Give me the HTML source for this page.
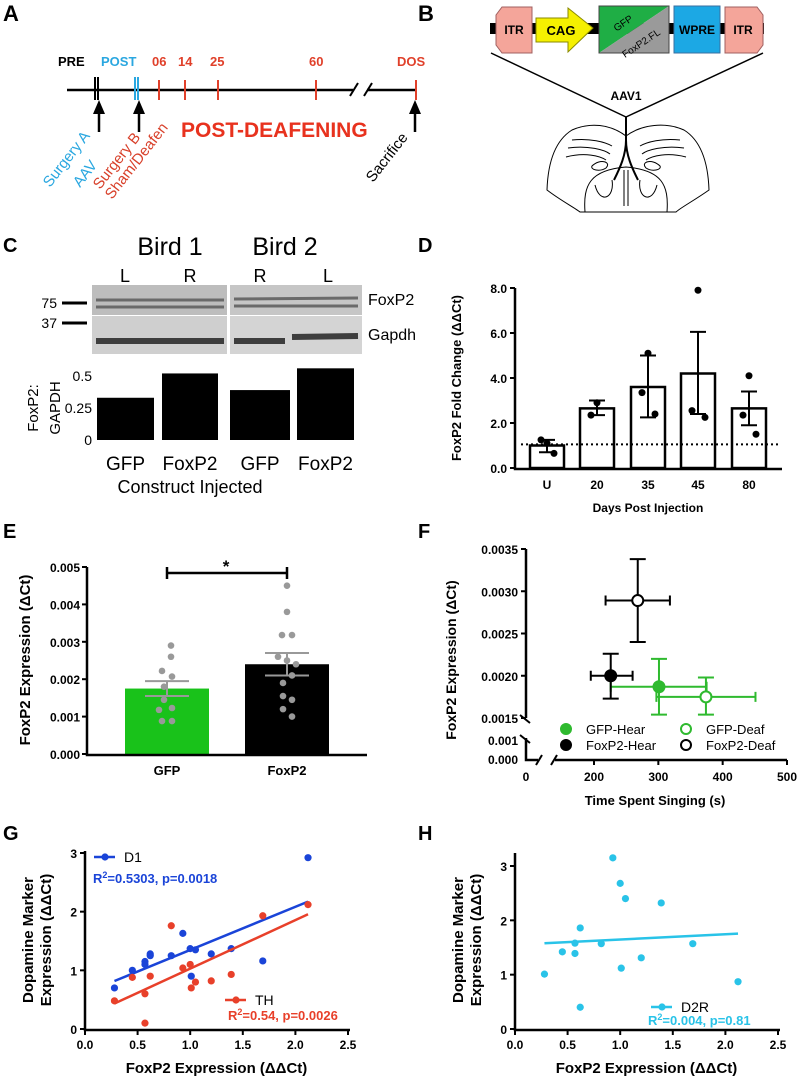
<!DOCTYPE html>
<html><head><meta charset="utf-8"><style>
html,body{margin:0;padding:0;background:#fff}
svg{display:block;font-family:"Liberation Sans",Arial,sans-serif}
.b{font-weight:bold}
</style></head><body>
<svg id="fig" width="800" height="1080" viewBox="0 0 800 1080" xmlns="http://www.w3.org/2000/svg">
<!-- Panel A -->
<g>
<text x="3" y="21" font-size="22" class="b">A</text>
<line x1="67" y1="90" x2="353" y2="90" stroke="#000" stroke-width="2.5"/>
<line x1="367" y1="90" x2="416" y2="90" stroke="#000" stroke-width="2.5"/>
<line x1="350" y1="96" x2="358" y2="83" stroke="#000" stroke-width="2"/>
<line x1="364" y1="96" x2="372" y2="83" stroke="#000" stroke-width="2"/>
<line x1="95" y1="77" x2="95" y2="100" stroke="#000" stroke-width="2"/>
<line x1="98" y1="77" x2="98" y2="100" stroke="#000" stroke-width="2"/>
<line x1="135" y1="77" x2="135" y2="100" stroke="#2aa7e0" stroke-width="2"/>
<line x1="138" y1="77" x2="138" y2="100" stroke="#2aa7e0" stroke-width="2"/>
<g stroke="#e0402a" stroke-width="2">
<line x1="159" y1="80" x2="159" y2="100"/>
<line x1="185" y1="80" x2="185" y2="100"/>
<line x1="218" y1="80" x2="218" y2="100"/>
<line x1="316" y1="80" x2="316" y2="100"/>
<line x1="416" y1="80" x2="416" y2="100"/>
</g>
<g font-size="13" class="b">
<text x="58" y="66" fill="#000">PRE</text>
<text x="101" y="66" fill="#2aa7e0">POST</text>
<text x="152" y="66" fill="#e0402a">06</text>
<text x="178" y="66" fill="#e0402a">14</text>
<text x="210" y="66" fill="#e0402a">25</text>
<text x="309" y="66" fill="#e0402a">60</text>
<text x="397" y="66" fill="#e0402a">DOS</text>
</g>
<g stroke="#000" stroke-width="2.5">
<line x1="99" y1="132" x2="99" y2="112"/>
<line x1="139" y1="132" x2="139" y2="112"/>
<line x1="415" y1="132" x2="415" y2="112"/>
</g>
<polygon points="93,114 105,114 99,100" fill="#000"/>
<polygon points="133,114 145,114 139,100" fill="#000"/>
<polygon points="409,114 421,114 415,100" fill="#000"/>
<text x="181" y="137" font-size="21" class="b" fill="#e8321e">POST-DEAFENING</text>
<g font-size="15">
<text transform="translate(50,188) rotate(-52)" fill="#2aa7e0">Surgery A</text>
<text transform="translate(80,188) rotate(-52)" fill="#2aa7e0">AAV</text>
<text transform="translate(100,190) rotate(-52)" fill="#d8402a">Surgery B</text>
<text transform="translate(112,200) rotate(-52)" fill="#d8402a">Sham/Deafen</text>
<text transform="translate(373,183) rotate(-52)" fill="#000">Sacrifice</text>
</g>
</g>
<!-- Panel B -->
<g>
<text x="418" y="21" font-size="22" class="b">B</text>
<rect x="490" y="23" width="274" height="11" fill="#000"/>
<polygon points="502,7 532,7 532,53 502,53 496,45 496,15" fill="#f4a59a" stroke="#a06060"/>
<text x="514" y="34" font-size="12" class="b" text-anchor="middle">ITR</text>
<polygon points="536,18 568,18 568,8 593,28 568,52 568,42 536,42" fill="#f5f000" stroke="#8a8a00"/>
<text x="561" y="35" font-size="13" class="b" text-anchor="middle">CAG</text>
<polygon points="599,6 669,6 599,53" fill="#1fae45"/>
<polygon points="669,6 669,53 599,53" fill="#9a9a9a"/>
<rect x="599" y="6" width="70" height="47" fill="none" stroke="#444"/>
<text transform="translate(625,26) rotate(-34)" font-size="10" text-anchor="middle">GFP</text>
<text transform="translate(643,46) rotate(-34)" font-size="10" text-anchor="middle">FoxP2.FL</text>
<rect x="674" y="6" width="46" height="47" fill="#1ca8e4" stroke="#3a6fa0"/>
<text x="697" y="34" font-size="12" class="b" text-anchor="middle">WPRE</text>
<polygon points="725,7 757,7 763,15 763,45 757,53 725,53" fill="#f4a59a" stroke="#a06060"/>
<text x="743" y="34" font-size="12" class="b" text-anchor="middle">ITR</text>
<line x1="491" y1="53" x2="626" y2="117" stroke="#000" stroke-width="1.5"/>
<line x1="763" y1="53" x2="626" y2="117" stroke="#000" stroke-width="1.5"/>
<text x="626" y="100" font-size="12" class="b" text-anchor="middle">AAV1</text>
<g fill="none" stroke="#000" stroke-width="1">
<path d="M626,136 C610,124 590,122 572,130 C556,140 548,160 547,190 C560,200 575,208 580,212 L676,212 C680,208 695,200 709,190 C708,160 700,140 684,130 C666,122 642,124 626,136 Z"/>
<path d="M572,140 C590,138 605,142 612,146 M568,148 C588,145 605,150 610,154 M566,157 C585,152 600,156 606,160"/>
<path d="M680,140 C662,138 647,142 640,146 M684,148 C664,145 647,150 642,154 M686,157 C667,152 652,156 646,160"/>
<path d="M592,166 C600,158 612,162 606,168 C600,172 590,170 592,166 Z M660,166 C652,158 640,162 646,168 C652,172 662,170 660,166 Z"/>
<path d="M585,212 C583,185 590,170 626,167 C662,170 669,185 667,212"/>
<path d="M595,185 C600,205 615,198 612,180 M657,185 C652,205 637,198 640,180"/>
<path d="M624,170 L624,206 M628,170 L628,206"/>
</g>
<path d="M626,117 L626,140 C626,155 620,168 614,180 M626,140 C626,155 632,168 638,180" fill="none" stroke="#000" stroke-width="2"/>
</g>
<!-- Panel C -->
<g>
<text x="3" y="252" font-size="20" class="b">C</text>
<text x="170" y="255" font-size="25" text-anchor="middle">Bird 1</text>
<text x="285" y="255" font-size="25" text-anchor="middle">Bird 2</text>
<g font-size="18" text-anchor="middle">
<text x="125" y="282">L</text>
<text x="190" y="282">R</text>
<text x="260" y="282">R</text>
<text x="328" y="282">L</text>
</g>
<rect x="92" y="285" width="135" height="30" fill="#bdbdbd"/>
<rect x="230" y="285" width="132" height="30" fill="#c6c6c6"/>
<rect x="92" y="316" width="135" height="38" fill="#cfcfcf"/>
<rect x="230" y="316" width="132" height="38" fill="#d4d4d4"/>
<g stroke="#6a6a6a" stroke-width="3">
<line x1="96" y1="300" x2="224" y2="300"/><line x1="96" y1="307" x2="224" y2="307"/>
<line x1="234" y1="299" x2="358" y2="298"/><line x1="234" y1="306" x2="358" y2="306"/>
</g>
<g stroke="#3e3e3e" stroke-width="6">
<line x1="96" y1="341" x2="224" y2="341"/><line x1="234" y1="341" x2="285" y2="341"/><line x1="292" y1="337" x2="358" y2="336"/>
</g>
<line x1="62" y1="303" x2="87" y2="303" stroke="#000" stroke-width="3"/>
<line x1="62" y1="323" x2="87" y2="323" stroke="#000" stroke-width="3"/>
<text x="57" y="308" font-size="14" text-anchor="end">75</text>
<text x="57" y="328" font-size="14" text-anchor="end">37</text>
<text x="368" y="305" font-size="16">FoxP2</text>
<text x="368" y="340" font-size="16">Gapdh</text>
<g id="cbars"></g>
<text x="190" y="493" font-size="18" text-anchor="middle">Construct Injected</text>
</g>
<g id="panelD"></g>
<g id="panelE"></g>
<g id="panelF"></g>
<g id="panelG"></g>
<g id="panelH"></g>
</svg>
<script>
// ---------- data ----------
const cCats=["GFP","FoxP2","GFP","FoxP2"];
const cVals=[0.33,0.52,0.39,0.56];
const cTicks=[0,0.25,0.5];

const dCats=["U","20","35","45","80"];
const dMeans=[1.0,2.65,3.6,4.2,2.65];
const dErrLo=[0.7,2.35,2.25,2.4,1.9];
const dErrHi=[1.25,3.0,5.0,6.05,3.4];
const dPoints=[[1.1,1.25,0.65],[2.9,2.35],[5.1,3.35,2.4],[7.9,2.55,2.25],[4.1,2.35,1.5]];
const dTicks=[0,2,4,6,8];
const dBaseline=1.05;

const eCats=["GFP","FoxP2"];
const eMeans=[0.00175,0.0024];
const eSemLo=[0.00155,0.0021];
const eSemHi=[0.00195,0.0027];
const eGfpPts=[0.0029,0.0026,0.00222,0.00207,0.0018,0.00145,0.00118,0.00123,0.00088,0.00088];
const eFoxPts=[0.0045,0.0038,0.00318,0.00318,0.0026,0.0025,0.0024,0.0021,0.0019,0.00155,0.00145,0.0012,0.001];
const eTicks=[0,0.001,0.002,0.003,0.004,0.005];

const fNames=["GFP-Hear","GFP-Deaf","FoxP2-Hear","FoxP2-Deaf"];
const fX=[301,374,226,268];
const fY=[0.00187,0.00175,0.002,0.00289];
const fXlo=[226,297,195,218];
const fXhi=[375,451,260,318];
const fYlo=[0.00154,0.00154,0.00173,0.0024];
const fYhi=[0.0022,0.00198,0.00226,0.00338];
const fYTicks=[0.0015,0.002,0.0025,0.003,0.0035];
const fXTicks=[200,300,400,500];

const gX=[0.28,0.45,0.57,0.57,0.62,0.62,0.82,0.93,1.0,1.01,1.05,1.2,1.39,1.69,2.12];
const gD1=[0.7,1.0,1.1,1.15,1.25,1.28,1.25,1.63,1.37,0.9,1.35,1.28,1.37,1.16,2.92];
const gTHx=[0.28,0.45,0.57,0.57,0.62,0.82,0.93,1.0,1.01,1.05,1.2,1.39,1.69,2.12];
const gTH=[0.48,0.88,0.6,0.1,0.9,1.76,1.04,1.1,0.7,0.8,0.82,0.93,1.93,2.12];
const hX=[0.28,0.45,0.57,0.57,0.62,0.62,0.82,0.93,1.0,1.01,1.05,1.2,1.39,1.69,2.12];
const hD2R=[1.01,1.42,1.58,1.39,1.86,0.4,1.57,3.15,2.68,1.12,2.4,1.31,2.32,1.57,0.87];
const ghXTicks=[0,0.5,1.0,1.5,2.0,2.5];

// ---------- helpers ----------
const NS="http://www.w3.org/2000/svg";
function mk(parent,tag,attrs,text){const e=document.createElementNS(NS,tag);for(const k in attrs)e.setAttribute(k,attrs[k]);if(text!==undefined)e.textContent=text;parent.appendChild(e);return e;}
function lin(d0,d1,r0,r1){return v=>r0+(v-d0)*(r1-r0)/(d1-d0);}
function fit(xs,ys){const n=xs.length;let mx=0,my=0;for(let i=0;i<n;i++){mx+=xs[i];my+=ys[i];}mx/=n;my/=n;let sxy=0,sxx=0;for(let i=0;i<n;i++){sxy+=(xs[i]-mx)*(ys[i]-my);sxx+=(xs[i]-mx)**2;}const b=sxy/sxx;return [my-b*mx,b];}
const F="Liberation Sans, Arial, sans-serif";
let el;

// ---------- Panel C bars ----------
(function(){
const g=document.getElementById('cbars');
const y=lin(0,0.5,440,376);
const xs=[97,162,230,297], ws=[57,56,60,57];
for(let i=0;i<cVals.length;i++){
 el=mk(g,'rect',{x:xs[i],y:y(cVals[i]),width:ws[i],height:y(0)-y(cVals[i]),fill:'#000'});
 
 
 el=mk(g,'text',{x:xs[i]+ws[i]/2,y:470,'font-size':19,'text-anchor':'middle'},cCats[i]);
 
 
}
for(const t of cTicks){
 el=mk(g,'text',{x:92,y:y(t)+5,'font-size':14,'text-anchor':'end'},t===0?'0':String(t));
 
 
}
el=mk(g,'text',{transform:'translate(38,408) rotate(-90)','font-size':15,'text-anchor':'middle'},'FoxP2:');


el=mk(g,'text',{transform:'translate(60,408) rotate(-90)','font-size':15,'text-anchor':'middle'},'GAPDH');


})();

// ---------- Panel D ----------
(function(){
const g=document.getElementById('panelD');
const y=lin(0,8,468,288);
const cx=[547,597,648,698,749];
el=mk(g,'text',{x:418,y:252,'font-size':20,'font-weight':'bold'},'D');


for(let i=0;i<dCats.length;i++){
 el=mk(g,'rect',{x:cx[i]-17,y:y(dMeans[i]),width:34,height:y(0)-y(dMeans[i]),fill:'#fff',stroke:'#000','stroke-width':2.5});
 
 
 el=mk(g,'path',{d:`M${cx[i]},${y(dErrLo[i])}V${y(dErrHi[i])}M${cx[i]-8},${y(dErrHi[i])}H${cx[i]+8}M${cx[i]-8},${y(dErrLo[i])}H${cx[i]+8}`,stroke:'#000','stroke-width':2,fill:'none'});
 
 
 const offs=[-7,6,0];
 dPoints[i].forEach((v,j)=>{
  el=mk(g,'circle',{cx:cx[i]+[0,-6,7][j],cy:y(v),r:3.5,fill:'#000'});
  
  
 });
 el=mk(g,'text',{x:cx[i],y:489,'font-size':12,'font-weight':'bold','text-anchor':'middle'},dCats[i]);
 
 
}
el=mk(g,'line',{x1:521,x2:780,y1:y(dBaseline),y2:y(dBaseline),stroke:'#000','stroke-width':2,'stroke-dasharray':'2,3'});


el=mk(g,'path',{d:`M515,${y(8)}V469H782`,stroke:'#000','stroke-width':2.5,fill:'none'});


for(const t of dTicks){
 el=mk(g,'line',{x1:510,x2:515,y1:y(t),y2:y(t),stroke:'#000','stroke-width':2});
 
 
 el=mk(g,'text',{x:507,y:y(t)+5,'font-size':12,'font-weight':'bold','text-anchor':'end'},t.toFixed(1));
 
 
}
el=mk(g,'text',{x:648,y:512,'font-size':12,'font-weight':'bold','text-anchor':'middle'},'Days Post Injection');


el=mk(g,'text',{transform:'translate(461,378) rotate(-90)','font-size':13,'font-weight':'bold','text-anchor':'middle'},'FoxP2 Fold Change (ΔΔCt)');


})();

// ---------- Panel E ----------
(function(){
const g=document.getElementById('panelE');
const y=lin(0,0.005,754,567);
const cx=[167,287];
el=mk(g,'text',{x:3,y:538,'font-size':20,'font-weight':'bold'},'E');


const fills=['#19c21a','#000'];
for(let i=0;i<2;i++){
 el=mk(g,'rect',{x:cx[i]-42,y:y(eMeans[i]),width:84,height:y(0)-y(eMeans[i]),fill:fills[i]});
 
 
 el=mk(g,'text',{x:cx[i],y:775,'font-size':13,'font-weight':'bold','text-anchor':'middle'},eCats[i]);
 
 
}
const pts=[eGfpPts,eFoxPts];
const offG=[4,4,-5,5,-3,-3,-8,5,-5,5];
const offF=[0,0,-5,5,-9,0,9,5,-4,-4,5,-4,5];
pts.forEach((arr,i)=>arr.forEach((v,j)=>{
 el=mk(g,'circle',{cx:cx[i]+(i?offF[j]:offG[j]),cy:y(v),r:3.3,fill:'#999'});
 
 
}));
for(let i=0;i<2;i++){
 el=mk(g,'path',{d:`M${cx[i]},${y(eSemLo[i])}V${y(eSemHi[i])}M${cx[i]-22},${y(eSemHi[i])}H${cx[i]+22}M${cx[i]-22},${y(eSemLo[i])}H${cx[i]+22}`,stroke:'#999','stroke-width':2,fill:'none'});
 
 
}
el=mk(g,'path',{d:`M87,${y(0.005)}V755H367`,stroke:'#000','stroke-width':2.5,fill:'none'});


for(const t of eTicks){
 el=mk(g,'line',{x1:82,x2:87,y1:y(t),y2:y(t),stroke:'#000','stroke-width':2});
 
 
 el=mk(g,'text',{x:80,y:y(t)+5,'font-size':12,'font-weight':'bold','text-anchor':'end'},t.toFixed(3));
 
 
}
el=mk(g,'path',{d:`M${cx[0]},579V567M${cx[0]},573H${cx[1]}M${cx[1]},567V579`,stroke:'#000','stroke-width':2.5,fill:'none'});


el=mk(g,'text',{x:226,y:572,'font-size':17,'font-weight':'bold','text-anchor':'middle'},'*');


el=mk(g,'text',{transform:'translate(30,660) rotate(-90)','font-size':15,'font-weight':'bold','text-anchor':'middle'},'FoxP2 Expression  (ΔCt)');


})();

// ---------- Panel F ----------
(function(){
const g=document.getElementById('panelF');
const y=lin(0.0015,0.0035,718,549);
const yl=lin(0,0.001,759,740);
const x=lin(200,500,594,787);
el=mk(g,'text',{x:418,y:538,'font-size':20,'font-weight':'bold'},'F');


el=mk(g,'path',{d:`M526,${y(0.0035)}V${718}M526,${738}V760H538M555,760H787`,stroke:'#000','stroke-width':2.5,fill:'none'});


el=mk(g,'path',{d:'M520,715L530,723M520,735L530,743M536,765L542,755M551,765L557,755',stroke:'#000','stroke-width':2,fill:'none'});


for(const t of fYTicks){
 el=mk(g,'line',{x1:521,x2:526,y1:y(t),y2:y(t),stroke:'#000','stroke-width':2});
 
 
 el=mk(g,'text',{x:518,y:y(t)+5,'font-size':12,'font-weight':'bold','text-anchor':'end'},t.toFixed(4));
 
 
}
[[0.001,'0.001'],[0,'0.000']].forEach(([t,s])=>{
 el=mk(g,'text',{x:518,y:yl(t)+5,'font-size':12,'font-weight':'bold','text-anchor':'end'},s);
 
 
});
el=mk(g,'text',{x:526,y:781,'font-size':12,'font-weight':'bold','text-anchor':'middle'},'0');


for(const t of fXTicks){
 el=mk(g,'line',{x1:x(t),x2:x(t),y1:760,y2:765,stroke:'#000','stroke-width':2});
 
 
 el=mk(g,'text',{x:x(t),y:781,'font-size':12,'font-weight':'bold','text-anchor':'middle'},String(t));
 
 
}
const cols=['#2fba2f','#2fba2f','#000','#000'];
const open=[false,true,false,true];
for(let i=0;i<fNames.length;i++){
 const px=x(fX[i]),py=y(fY[i]);
 el=mk(g,'path',{d:`M${x(fXlo[i])},${py}H${x(fXhi[i])}M${x(fXlo[i])},${py-5}V${py+5}M${x(fXhi[i])},${py-5}V${py+5}M${px},${y(fYlo[i])}V${y(fYhi[i])}M${px-8},${y(fYlo[i])}H${px+8}M${px-8},${y(fYhi[i])}H${px+8}`,stroke:cols[i],'stroke-width':2,fill:'none'});
 
 
 el=mk(g,'circle',{cx:px,cy:py,r:5.5,fill:open[i]?'#fff':cols[i],stroke:cols[i],'stroke-width':2});
 
 
}
const lx=[566,686,566,686], ly=[730,730,746,746];
const order=[0,1,2,3];
order.forEach(i=>{
 el=mk(g,'circle',{cx:lx[i],cy:ly[i]-1,r:5,fill:open[i]?'#fff':cols[i],stroke:cols[i],'stroke-width':2});
 
 
 el=mk(g,'text',{x:lx[i]+20,y:ly[i]+4,'font-size':13},fNames[i]);
 
 
});
el=mk(g,'text',{x:655,y:805,'font-size':13,'font-weight':'bold','text-anchor':'middle'},'Time Spent Singing (s)');


el=mk(g,'text',{transform:'translate(456,660) rotate(-90)','font-size':14,'font-weight':'bold','text-anchor':'middle'},'FoxP2 Expression  (ΔCt)');


})();

// ---------- scatter panels G/H ----------
function scatter(gid,letter,lx0,yAxX,yTop,x2,ymaxPx,yTicks,series){
 const g=document.getElementById(gid);
 const x=lin(0,2.5,yAxX,x2);
 const y=lin(0,yTicks[yTicks.length-1],1029,ymaxPx);
 el=mk(g,'text',{x:lx0,y:840,'font-size':20,'font-weight':'bold'},letter);
 
 
 el=mk(g,'path',{d:`M${yAxX},${yTop}V1030H${x2+2}`,stroke:'#000','stroke-width':2.5,fill:'none'});
 
 
 for(const t of yTicks){
  el=mk(g,'line',{x1:yAxX-5,x2:yAxX,y1:y(t),y2:y(t),stroke:'#000','stroke-width':2});
  
  
  el=mk(g,'text',{x:yAxX-8,y:y(t)+5,'font-size':12,'font-weight':'bold','text-anchor':'end'},String(t));
  
  
 }
 for(const t of ghXTicks){
  el=mk(g,'line',{x1:x(t),x2:x(t),y1:1030,y2:1035,stroke:'#000','stroke-width':2});
  
  
  el=mk(g,'text',{x:x(t),y:1049,'font-size':12,'font-weight':'bold','text-anchor':'middle'},t.toFixed(1));
  
  
 }
 el=mk(g,'text',{x:(yAxX+x2)/2,y:1073,'font-size':15,'font-weight':'bold','text-anchor':'middle'},'FoxP2 Expression (ΔΔCt)');
 
 
 el=mk(g,'text',{transform:`translate(${yAxX-52},940) rotate(-90)`,'font-size':15,'font-weight':'bold','text-anchor':'middle'},'Dopamine Marker');
 
 
 el=mk(g,'text',{transform:`translate(${yAxX-34},940) rotate(-90)`,'font-size':15,'font-weight':'bold','text-anchor':'middle'},'Expression (ΔΔCt)');
 
 
 for(const s of series){
  const [a,b]=fit(s.xs,s.ys);
  const xa=Math.min(...s.xs), xb=Math.max(...s.xs);
  el=mk(g,'line',{x1:x(xa),y1:y(a+b*xa),x2:x(xb),y2:y(a+b*xb),stroke:s.col,'stroke-width':2.5});
  
  
  s.xs.forEach((v,i)=>{
   el=mk(g,'circle',{cx:x(v),cy:y(s.ys[i]),r:3.6,fill:s.col});
   
   
  });
  el=mk(g,'line',{x1:s.lx,y1:s.ly,x2:s.lx+21,y2:s.ly,stroke:s.col,'stroke-width':2.5});
  
  
  el=mk(g,'circle',{cx:s.lx+11,cy:s.ly,r:3.6,fill:s.col});
  
  
  el=mk(g,'text',{x:s.lx+30,y:s.ly+5,'font-size':14},s.name);
  
  
  const t=mk(g,'text',{x:s.sx,y:s.sy,'font-size':13,'font-weight':'bold',fill:s.col});
  t.innerHTML='R<tspan dy="-5" font-size="9">2</tspan><tspan dy="5">'+s.stat+'</tspan>';
  
  
 }
}
scatter('panelG','G',3,85,851,348,853,[0,1,2,3],[
 {name:'D1',xs:gX,ys:gD1,col:'#1a44d8',lx:94,ly:857,sx:93,sy:883,stat:'=0.5303, p=0.0018'},
 {name:'TH',xs:gTHx,ys:gTH,col:'#e8402a',lx:225,ly:1000,sx:228,sy:1020,stat:'=0.54, p=0.0026'}
]);
scatter('panelH','H',418,515,853,778,866,[0,1,2,3],[
 {name:'D2R',xs:hX,ys:hD2R,col:'#29c3e8',lx:651,ly:1007,sx:648,sy:1025,stat:'=0.004, p=0.81'}
]);
</script>
</body></html>
